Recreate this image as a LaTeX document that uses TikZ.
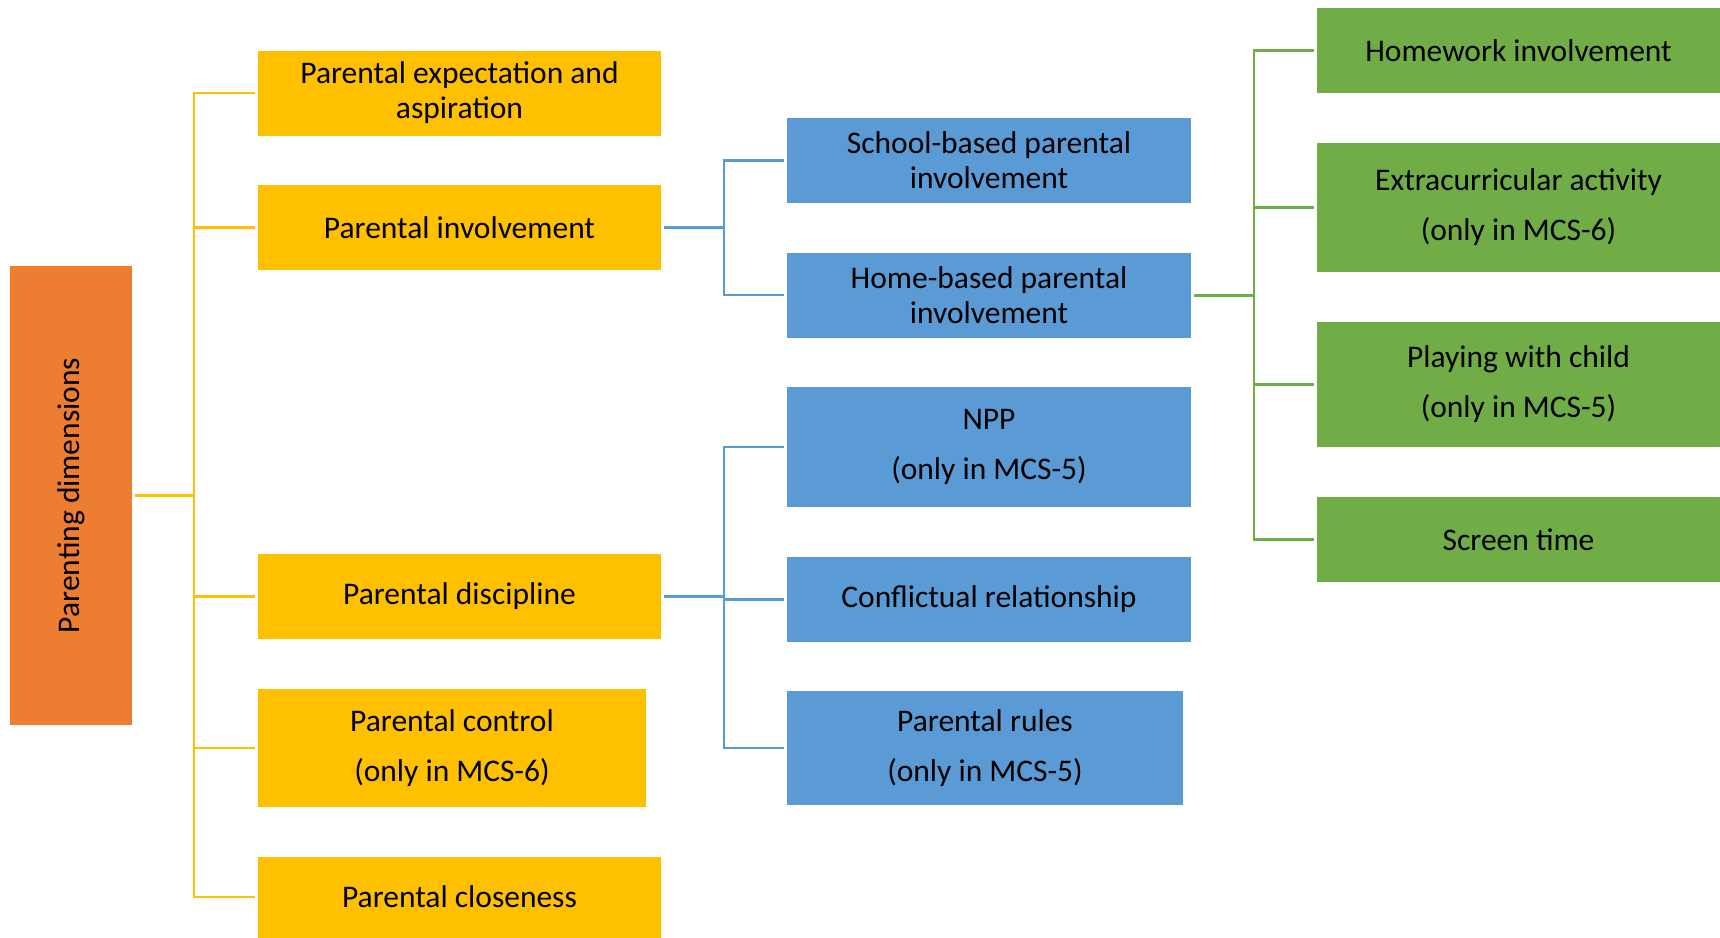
\documentclass[tikz,border=0pt]{standalone}
\usepackage{fontspec}
\setmainfont{Carlito}
\usepackage{graphicx}
\definecolor{dimorange}{RGB}{237,125,49}
\definecolor{diryellow}{RGB}{255,192,0}
\definecolor{subblue}{RGB}{91,155,213}
\definecolor{actgreen}{RGB}{112,173,71}

\tikzset{
  box/.style={rectangle, inner sep=0pt, outer sep=3pt, align=center, text=black,
    font=\fontsize{31.5}{35}\selectfont},
  loose/.style={font=\fontsize{31.5}{50}\selectfont},
  obox/.style={box, fill=dimorange, minimum width=122pt, minimum height=459pt},
  ybox/.style={box, fill=diryellow, minimum width=403pt, minimum height=85pt},
  bbox/.style={box, fill=subblue, minimum width=404pt, minimum height=85pt},
  gbox/.style={box, fill=actgreen, minimum width=403pt, minimum height=85pt},
  ylink/.style={draw=diryellow, line width=2.6pt},
  blink/.style={draw=subblue, line width=2.3pt},
  glink/.style={draw=actgreen, line width=2.3pt}
}

\begin{document}
\begin{tikzpicture}[x=1pt,y=1pt,yscale=-1]
\useasboundingbox (0,0) rectangle (1720,937);

% Root
\node[obox] (dim) at (71,495.5) {\rotatebox{90}{Parenting dimensions}};

% Dimensions
\node[ybox] (yexp) at (459.5,93) {Parental expectation and\\aspiration};
\node[ybox] (yinv) at (459.5,227.5) {Parental involvement};
\node[ybox] (ydis) at (459.5,596.5) {Parental discipline};
\node[ybox,loose,minimum width=388pt,minimum height=118pt] (yctl) at (452,748) {Parental control\\(only in MCS-6)};
\node[ybox,minimum height=81pt] (yclo) at (459.5,897) {Parental closeness};

% Sub-dimensions
\node[bbox] (bsch) at (989,160.5) {School-based parental\\involvement};
\node[bbox] (bhom) at (989,295) {Home-based parental\\involvement};
\node[bbox,loose,minimum height=120pt] (bnpp) at (989,447) {NPP\\(only in MCS-5)};
\node[bbox] (bcon) at (989,599.5) {Conflictual relationship};
\node[bbox,loose,minimum width=396pt,minimum height=114pt] (brul) at (985,748) {Parental rules\\(only in MCS-5)};

% Home activities
\node[gbox] (ghw) at (1518.5,50.5) {Homework involvement};
\node[gbox,loose,minimum height=129pt] (gext) at (1518.5,207.5) {Extracurricular activity\\(only in MCS-6)};
\node[gbox,loose,minimum height=125pt] (gply) at (1518.5,384.5) {Playing with child\\(only in MCS-5)};
\node[gbox] (gscr) at (1518.5,539.5) {Screen time};

% Yellow tree
\coordinate (yj) at (194,0);
\draw[ylink, line width=3.3pt] (dim.east) -- (yj |- dim.east);
\draw[ylink] (yexp.west) -- (yj |- yexp.west) -- (yj |- yclo.west) -- (yclo.west);
\foreach \n in {yinv,ydis,yctl}
  \draw[ylink] (yj |- \n.west) -- (\n.west);

% Blue tree
\coordinate (bj) at (724,0);
\draw[blink] (yinv.east) -- (bj |- yinv.east);
\draw[blink] (bsch.west) -- (bj |- bsch.west) -- (bj |- bhom.west) -- (bhom.west);
\draw[blink] (ydis.east) -- (bj |- ydis.east);
\draw[blink] (bnpp.west) -- (bj |- bnpp.west) -- (bj |- brul.west) -- (brul.west);
\draw[blink] (bj |- bcon.west) -- (bcon.west);

% Green tree
\coordinate (gj) at (1254,0);
\draw[glink, line width=3pt] (bhom.east) -- (gj |- bhom.east);
\draw[glink] (ghw.west) -- (gj |- ghw.west) -- (gj |- gscr.west) -- (gscr.west);
\foreach \n in {gext,gply}
  \draw[glink] (gj |- \n.west) -- (\n.west);

\end{tikzpicture}
\end{document}
